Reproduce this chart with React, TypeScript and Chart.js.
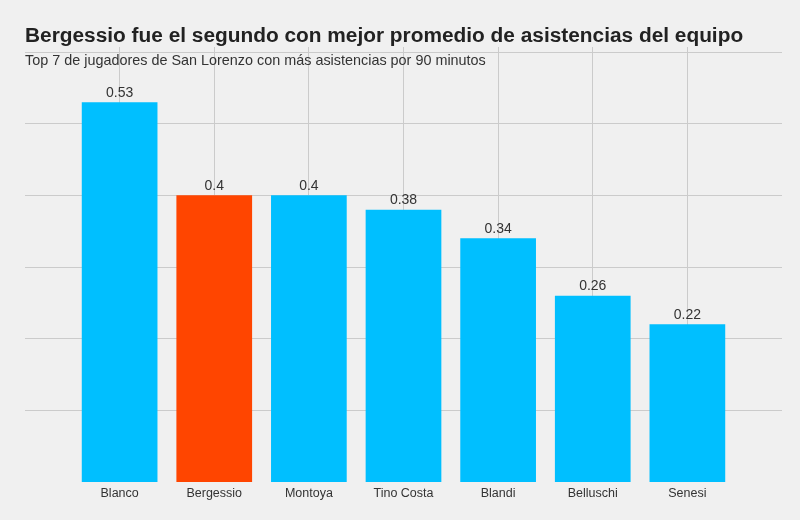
import React, { useEffect, useRef } from 'react';
import { Chart, registerables } from 'chart.js';

Chart.register(...registerables);

const players = ['Blanco', 'Bergessio', 'Montoya', 'Tino Costa', 'Blandi', 'Belluschi', 'Senesi'];
const assistsPer90 = [0.53, 0.4, 0.4, 0.38, 0.34, 0.26, 0.22];
const highlightedPlayer = 'Bergessio';
const yGridValues = [0.1, 0.2, 0.3, 0.4, 0.5, 0.6];
const titleText = 'Bergessio fue el segundo con mejor promedio de asistencias del equipo';
const subtitleText = 'Top 7 de jugadores de San Lorenzo con más asistencias por 90 minutos';

const FONT = '"Liberation Sans", Arial, Helvetica, sans-serif';
const BASE_COLOR = '#00bfff';
const HIGHLIGHT_COLOR = '#ff4500';
const GRID_COLOR = '#cbcbcb';

export default function App() {
  const canvasRef = useRef<HTMLCanvasElement | null>(null);

  useEffect(() => {
    const canvas = canvasRef.current;
    if (!canvas) return;

    const labels = ['', ...players, ''];
    const values: (number | null)[] = [null, ...assistsPer90, null];
    const colors = labels.map((l) => (l === highlightedPlayer ? HIGHLIGHT_COLOR : BASE_COLOR));

    const valueLabels = {
      id: 'valueLabels',
      afterDatasetsDraw(chart: any) {
        const ctx = chart.ctx as CanvasRenderingContext2D;
        const meta = chart.getDatasetMeta(0);
        const data = chart.data.datasets[0].data as (number | null)[];
        ctx.save();
        ctx.font = `14px ${FONT}`;
        ctx.fillStyle = '#333333';
        ctx.textAlign = 'center';
        ctx.textBaseline = 'alphabetic';
        meta.data.forEach((el: any, i: number) => {
          const v = data[i];
          if (v == null) return;
          ctx.fillText(String(v), el.x, el.y - 5.5);
        });
        ctx.restore();
      },
    };

    const chart = new Chart(canvas, {
      type: 'bar',
      data: {
        labels,
        datasets: [
          {
            data: values,
            backgroundColor: colors,
            borderWidth: 0,
            barPercentage: 1,
            categoryPercentage: 0.8,
          },
        ],
      },
      options: {
        animation: false,
        responsive: false,
        layout: { padding: { left: 25, right: 18, top: 47, bottom: 0 } },
        plugins: {
          legend: { display: false },
          tooltip: { enabled: false },
        },
        scales: {
          x: {
            type: 'category',
            offset: false,
            grid: {
              offset: false,
              drawTicks: false,
              lineWidth: 1,
              color: (c: any) =>
                c.index === 0 || c.index === labels.length - 1 ? 'rgba(0,0,0,0)' : GRID_COLOR,
            },
            border: { display: false },
            ticks: {
              color: '#333333',
              font: { family: FONT, size: 12.5 },
              padding: 4,
              maxRotation: 0,
              autoSkip: false,
            },
            afterFit: (s: any) => {
              s.height = 38;
            },
          },
          y: {
            min: 0,
            max: 0.607,
            afterBuildTicks: (s: any) => {
              s.ticks = yGridValues.map((v) => ({ value: v }));
            },
            grid: { color: GRID_COLOR, drawTicks: false, lineWidth: 1 },
            border: { display: false },
            ticks: { display: false },
            afterFit: (s: any) => {
              s.width = 0;
            },
          },
        },
      },
      plugins: [valueLabels],
    });

    return () => {
      chart.destroy();
    };
  }, []);

  return (
    <div
      style={{
        position: 'fixed',
        left: 0,
        top: 0,
        width: 800,
        height: 520,
        background: '#f0f0f0',
        overflow: 'hidden',
      }}
    >
      <canvas ref={canvasRef} width={800} height={520} style={{ position: 'absolute', left: 0, top: 0 }} />
      <div
        style={{
          position: 'absolute',
          left: 25,
          top: 24,
          fontFamily: FONT,
          fontWeight: 'bold',
          fontSize: 20.85,
          lineHeight: '21px',
          color: '#222222',
          whiteSpace: 'nowrap',
        }}
      >
        {titleText}
      </div>
      <div
        style={{
          position: 'absolute',
          left: 25,
          top: 53,
          fontFamily: FONT,
          fontSize: 14.4,
          lineHeight: '14px',
          color: '#333333',
          whiteSpace: 'nowrap',
        }}
      >
        {subtitleText}
      </div>
    </div>
  );
}
